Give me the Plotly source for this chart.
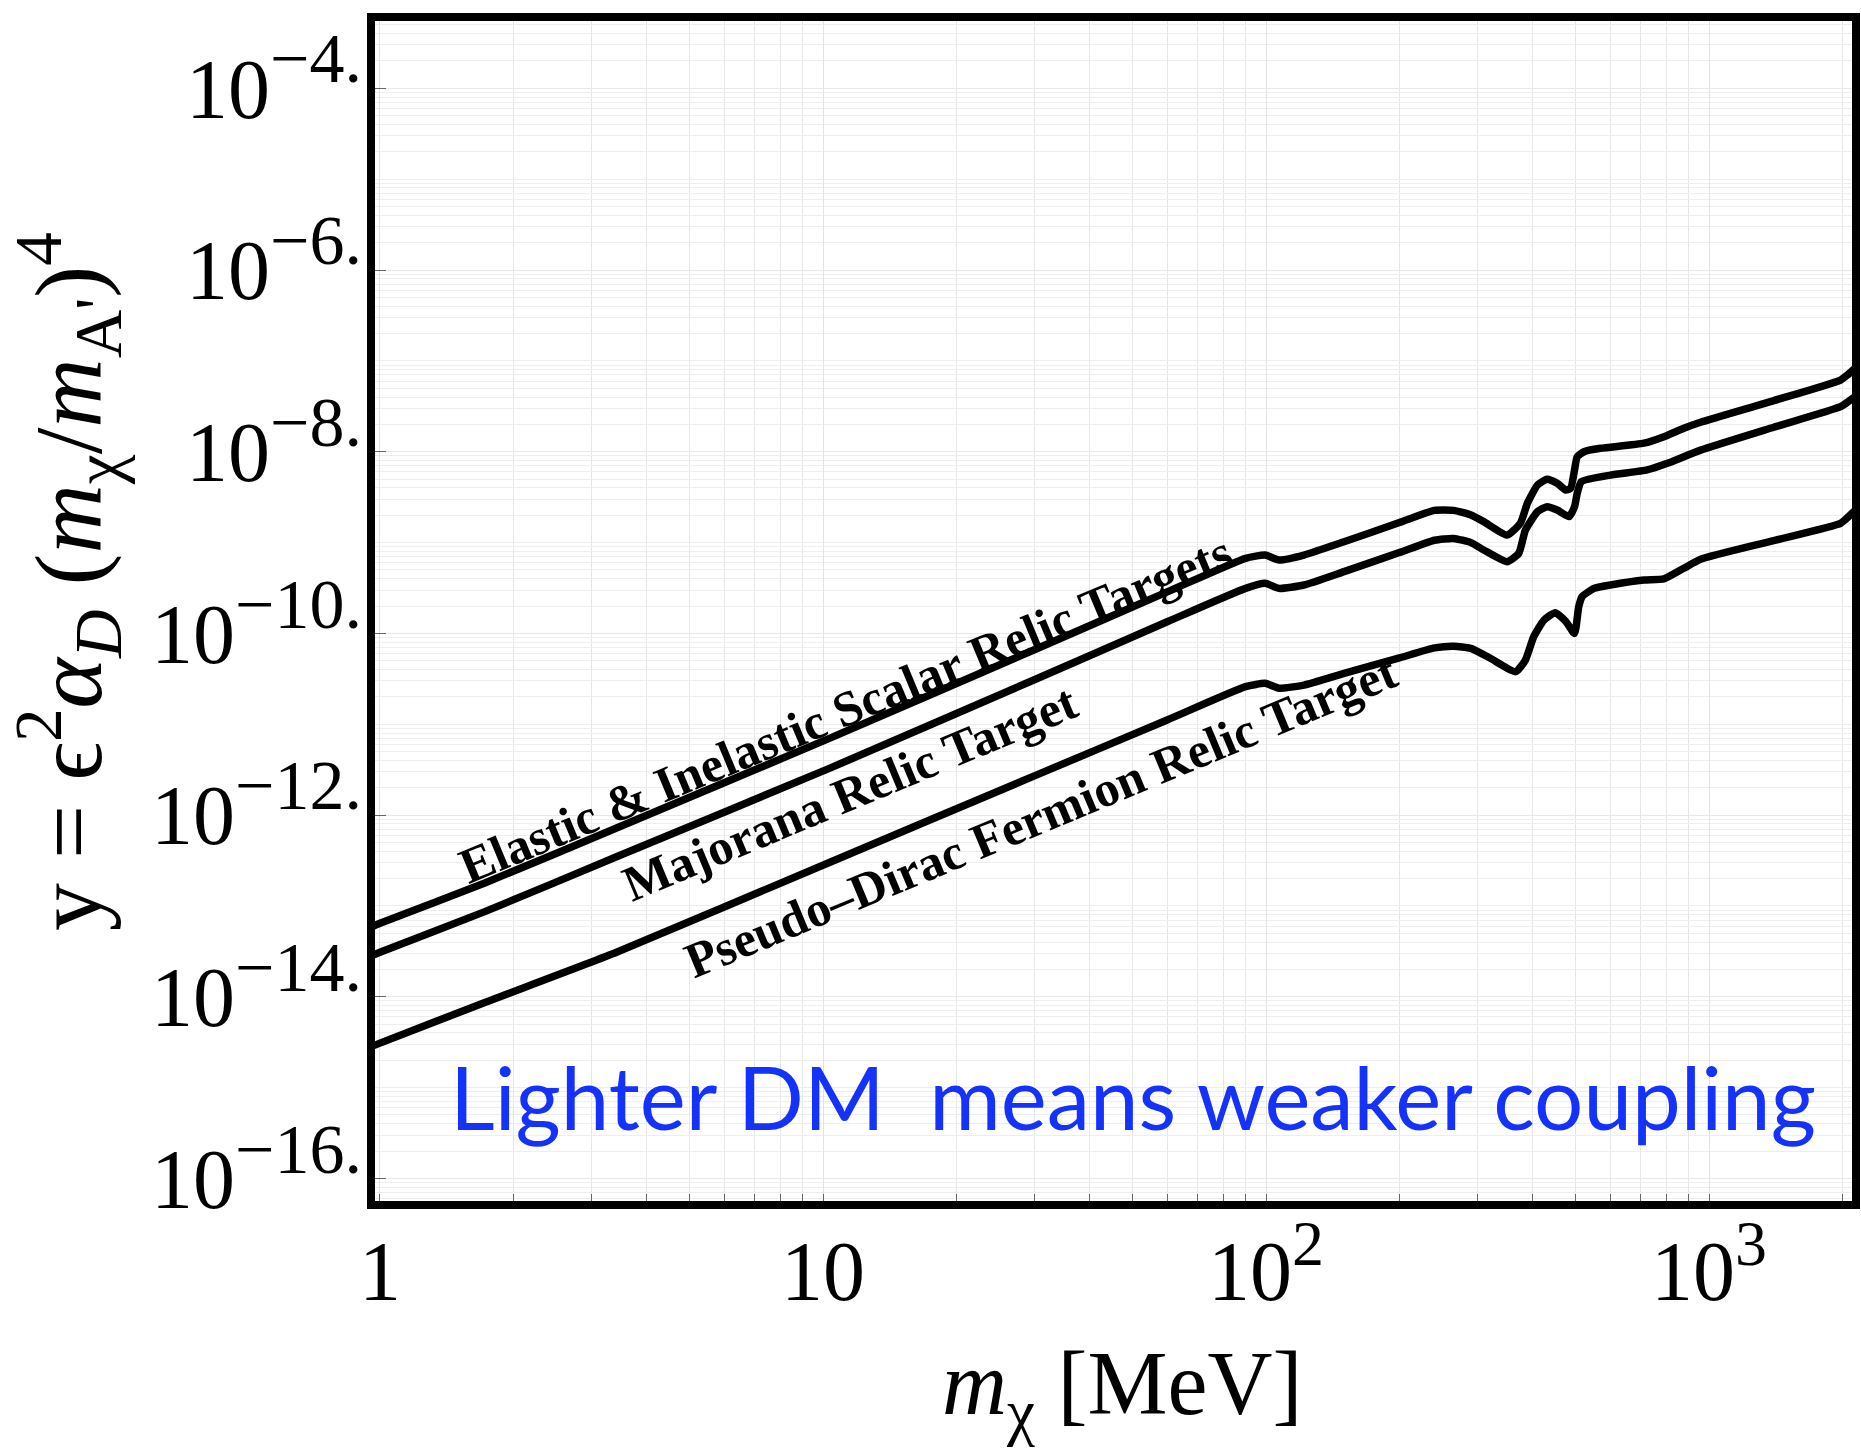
import plotly.graph_objects as go

# ---------------- data ----------------
mass_elastic = [0.95, 1.0, 1.73, 3.43, 10.4, 30, 60, 89.9, 99.5, 107, 121.8, 150, 200, 240, 265,
                290, 310, 350, 375, 389, 410, 431, 454, 475, 487, 497, 504, 522, 569, 713, 791,
                877, 957, 1400, 1981, 2060, 2160]
y_elastic = [5.82e-14, 6.46e-14, 1.80e-13, 7.24e-13, 7.08e-12, 6.61e-11, 2.88e-10, 6.71e-10,
             7.29e-10, 6.43e-10, 7.29e-10, 1.02e-9, 1.66e-9, 2.26e-9, 2.26e-9, 2.01e-9, 1.70e-9,
             1.21e-9, 1.63e-9, 2.70e-9, 4.30e-9, 4.97e-9, 4.49e-9, 3.78e-9, 3.95e-9, 6.30e-9,
             8.81e-9, 1.00e-8, 1.09e-8, 1.24e-8, 1.46e-8, 1.81e-8, 2.11e-8, 3.65e-8, 6.15e-8,
             7.08e-8, 8.71e-8]

mass_majorana = [0.95, 1.0, 1.73, 3.43, 10.4, 30, 60, 89.9, 99.5, 107, 121.8, 150, 200, 240, 265,
                 290, 310, 350, 372, 385, 410, 431, 454, 483, 497, 504, 515, 599, 725, 805, 957,
                 1400, 1981, 2060, 2160]
y_majorana = [2.79e-14, 3.09e-14, 8.71e-14, 3.50e-13, 3.31e-12, 3.09e-11, 1.35e-10, 3.13e-10,
              3.56e-10, 3.13e-10, 3.41e-10, 4.79e-10, 7.76e-10, 1.06e-9, 1.11e-9, 9.98e-10,
              8.28e-10, 6.15e-10, 7.62e-10, 1.37e-9, 2.19e-9, 2.48e-9, 2.28e-9, 1.93e-9, 2.48e-9,
              3.48e-9, 4.68e-9, 5.53e-9, 6.30e-9, 7.45e-9, 1.04e-8, 1.86e-8, 3.13e-8, 3.55e-8,
              4.21e-8]

mass_pseudo = [0.95, 1.0, 1.73, 3.43, 10.4, 30, 60, 89.9, 99.5, 107, 121.8, 150, 200, 240, 265,
               290, 321, 366, 385, 402, 424, 450, 475, 497, 508, 517, 550, 599, 713, 791, 877,
               957, 1400, 1981, 2033, 2160]
y_pseudo = [2.79e-15, 3.09e-15, 8.71e-15, 3.11e-14, 3.05e-13, 2.70e-12, 1.12e-11, 2.59e-11,
            2.82e-11, 2.49e-11, 2.70e-11, 3.63e-11, 5.37e-11, 6.92e-11, 7.24e-11, 6.85e-11,
            5.32e-11, 3.79e-11, 5.09e-11, 9.20e-11, 1.40e-10, 1.69e-10, 1.35e-10, 1.00e-10,
            1.97e-10, 2.54e-10, 3.13e-10, 3.41e-10, 3.87e-10, 3.98e-10, 5.21e-10, 6.55e-10,
            1.05e-9, 1.63e-9, 1.80e-9, 2.38e-9]

curve_labels = ["Elastic & Inelastic Scalar Relic Targets",
                "Majorana Relic Target",
                "Pseudo\u2013Dirac Fermion Relic Target"]

x_tickvals = [1, 10, 100, 1000]
x_tick_base = ["1", "10", "10", "10"]
x_tick_exp = ["", "", "2", "3"]
y_tickvals = [1e-4, 1e-6, 1e-8, 1e-10, 1e-12, 1e-14, 1e-16]
y_tick_exp = ["\u22124.", "\u22126.", "\u22128.", "\u221210.", "\u221212.", "\u221214.", "\u221216."]

X_SUP = '<sup><span style="font-size:64px">{}</span></sup>'
Y_SUP = '<sup><span style="font-size:70px">{}</span></sup>'
x_ticktext = [b + (X_SUP.format(e) if e else "") for b, e in zip(x_tick_base, x_tick_exp)]
y_ticktext = ["10" + Y_SUP.format(e) for e in y_tick_exp]

# ---------------- figure ----------------
W, H = 1861, 1449
ML, MR, MT, MB = 371, 5, 17, 244
PW, PH = W - ML - MR, H - MT - MB

def px(X):
    return (X - ML) / PW

def py(Y):
    return (H - MB - Y) / PH

SERIF = "Liberation Serif, Times New Roman, serif"
line_style = dict(color="black", width=7.5, shape="spline", smoothing=0.5)

fig = go.Figure()
for m, y in [(mass_elastic, y_elastic), (mass_majorana, y_majorana), (mass_pseudo, y_pseudo)]:
    fig.add_trace(go.Scatter(x=m, y=y, mode="lines", line=line_style,
                             showlegend=False, hoverinfo="skip", cliponaxis=True))

# white patches covering the grid (as in the reference)
def poly(points):
    return "M " + " L ".join(f"{px(a):.4f},{py(b):.4f}" for a, b in points) + " Z"

shapes = [
    dict(type="path", xref="paper", yref="paper",
         path=poly([(770, 60), (1735, 60), (1735, 21), (1852, 21), (1852, 377), (770, 377)]),
         fillcolor="white", line=dict(width=0), layer="between"),
    dict(type="path", xref="paper", yref="paper",
         path=poly([(600, 1201), (560, 1050), (1686, 664), (1736, 786), (1300, 957), (760, 1201)]),
         fillcolor="white", line=dict(width=0), layer="between"),
    dict(type="rect", xref="paper", yref="paper", x0=0, x1=1, y0=0, y1=1,
         line=dict(color="black", width=8), layer="above"),
]

annotations = []
label_pos = [(1.0508, -10.83), (1.0598, -11.76), (1.4910, -12.01)]
for txt, (lx, ly) in zip(curve_labels, label_pos):
    annotations.append(dict(x=lx, y=ly, xref="x", yref="y", text="<b>" + txt + "</b>",
                            showarrow=False, textangle=-22.6, xanchor="center", yanchor="middle",
                            font=dict(family=SERIF, size=50, color="black")))

annotations.append(dict(x=px(1133), y=py(1096), xref="paper", yref="paper",
                        text="Lighter DM&nbsp;&nbsp;means weaker coupling", showarrow=False,
                        xanchor="center", yanchor="middle",
                        font=dict(family="Lato, Open Sans, sans-serif", size=87, color="#1432fa")))

annotations.append(dict(x=px(1122), y=py(1390), xref="paper", yref="paper",
                        text="<i>m</i><sub>\u03c7</sub> [MeV]", showarrow=False,
                        xanchor="center", yanchor="middle",
                        font=dict(family=SERIF, size=90, color="black")))

annotations.append(dict(x=px(68), y=py(582), xref="paper", yref="paper",
                        text="y = \u03f5<sup>2</sup><i>\u03b1</i><sub><i>D</i></sub> (<i>m</i><sub>\u03c7</sub>/<i>m</i><sub>A'</sub>)<sup>4</sup>",
                        showarrow=False, textangle=-90, xanchor="center", yanchor="middle",
                        font=dict(family=SERIF, size=96, color="black")))

fig.update_layout(
    width=W, height=H,
    margin=dict(l=ML, r=MR, t=MT, b=MB, pad=0),
    paper_bgcolor="white", plot_bgcolor="white",
    shapes=shapes, annotations=annotations,
    xaxis=dict(type="log", range=[-0.0203, 3.3317],
               tickmode="array", tickvals=x_tickvals, ticktext=x_ticktext,
               ticks="inside", ticklen=11, tickwidth=1.2, tickcolor="#666",
               showgrid=True, gridcolor="#e2e2e2", gridwidth=1,
               minor=dict(dtick="D1", ticks="inside", ticklen=11, tickwidth=1.2, tickcolor="#666",
                          showgrid=True, gridcolor="#e6e6e6", gridwidth=1),
               showline=False, zeroline=False, ticklabelstandoff=10,
               tickfont=dict(family=SERIF, size=84, color="black")),
    yaxis=dict(type="log", range=[-16.292, -3.215],
               tickmode="array", tickvals=y_tickvals, ticktext=y_ticktext,
               ticks="inside", ticklen=15, tickwidth=1.2, tickcolor="#666",
               showgrid=True, gridcolor="#e8e8e8", gridwidth=1,
               minor=dict(dtick="D1", ticks="", showgrid=True, gridcolor="#eeeeee", gridwidth=1),
               showline=False, zeroline=False, ticklabelstandoff=8,
               tickfont=dict(family=SERIF, size=84, color="black")),
)

fig.write_html("out.html")
